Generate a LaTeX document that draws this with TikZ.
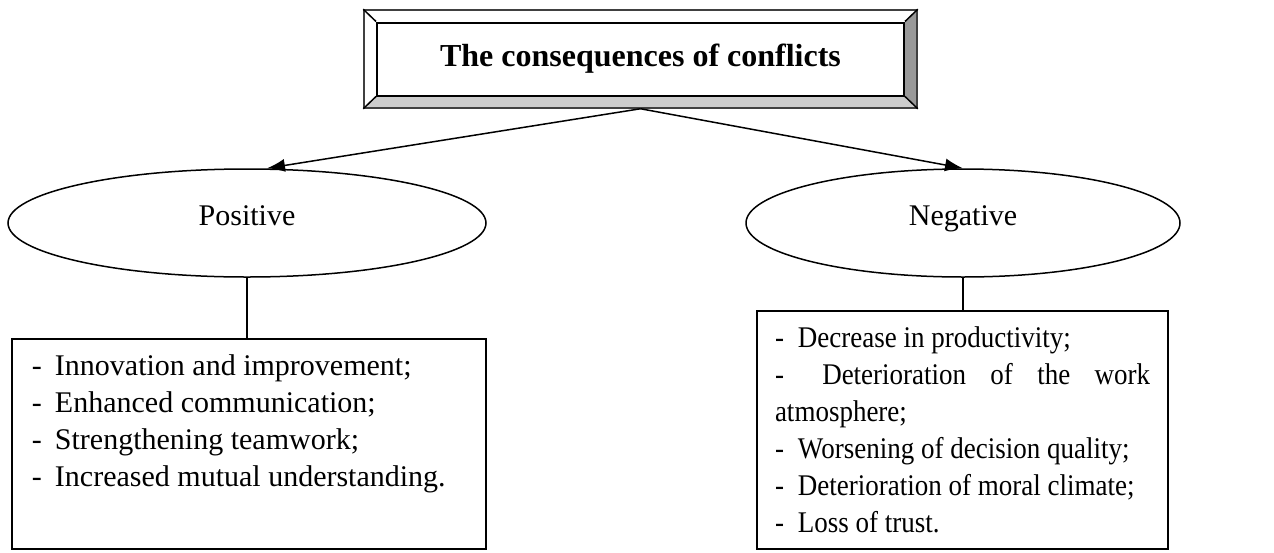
\documentclass[tikz,border=0pt]{standalone}
\usepackage{fontspec}
\setmainfont{Liberation Serif}
\usetikzlibrary{shapes.geometric, arrows.meta, backgrounds}

\tikzset{
  branch/.style={draw, ellipse, line width=0.75pt, inner sep=0pt, text depth=7pt},
  itembox/.style={draw, rectangle, line width=0.75pt, anchor=north, inner ysep=0pt},
  link/.style={line width=0.75pt},
  arrowlink/.style={link, -{Latex[length=9pt,width=6.5pt]}},
}
\newcommand{\itm}{\makebox[11.5pt][l]{-}}

\begin{document}
\begin{tikzpicture}[x=0.5pt, y=-0.5pt, font=\fontsize{15}{18.5}\selectfont]
  \useasboundingbox (0,0) rectangle (1274,552);

  % heading with bevelled frame
  \node[draw=black!75, line width=0.75pt, minimum width=276.5pt, minimum height=49pt, inner sep=0pt] (title) at (640.5,59) {};
  \node[draw, fill=white, line width=1pt, minimum width=263.5pt, minimum height=36.5pt, inner sep=0pt, font=\fontsize{16}{18.5}\selectfont\bfseries] (head) at (title.center) {The consequences of conflicts};
  \begin{scope}[on background layer]
    \fill[white] (title.north west) -- (title.north east) -- (head.north east) -- (head.north west) -- cycle;
    \fill[black!20] (title.south west) -- (title.south east) -- (head.south east) -- (head.south west) -- cycle;
    \fill[black!40] (title.north east) -- (title.south east) -- (head.south east) -- (head.north east) -- cycle;
  \end{scope}
  \draw[line width=0.75pt] (title.north west) -- (head.north west)
    (title.north east) -- (head.north east)
    (title.south west) -- (head.south west)
    (title.south east) -- (head.south east);

  % two kinds of consequences
  \node[branch, minimum width=239pt, minimum height=54pt] (pos) at (247,223) {Positive};
  \node[branch, minimum width=217pt, minimum height=54pt] (neg) at (963,223) {Negative};

  \node[itembox, inner xsep=10pt] (posList) at (249,338) {\parbox[c][105pt][t]{217pt}{\raggedright\vspace*{8pt}%
    \itm Innovation and improvement;\\
    \itm Enhanced communication;\\
    \itm Strengthening teamwork;\\
    \itm Increased mutual understanding.}};
  \node[itembox, inner xsep=9pt] (negList) at (962.5,310) {\parbox[c][119pt][t]{187.5pt}{\raggedright\addfontfeature{FakeStretch=0.9}\vspace*{8pt}%
    \itm Decrease in productivity;\\
    \makebox[\linewidth][s]{\itm\hfill Deterioration\hfill of\hfill the\hfill work}\\
    atmosphere;\\
    \itm Worsening of decision quality;\\
    \itm Deterioration of moral climate;\\
    \itm Loss of trust.}};

  \draw[arrowlink] (title.south) -- ([xshift=10pt]pos.north);
  \draw[arrowlink] (title.south) -- (neg.north);
  \draw[link] (pos.south) -- (pos.south |- posList.north);
  \draw[link] (neg.south) -- (neg.south |- negList.north);
\end{tikzpicture}
\end{document}
